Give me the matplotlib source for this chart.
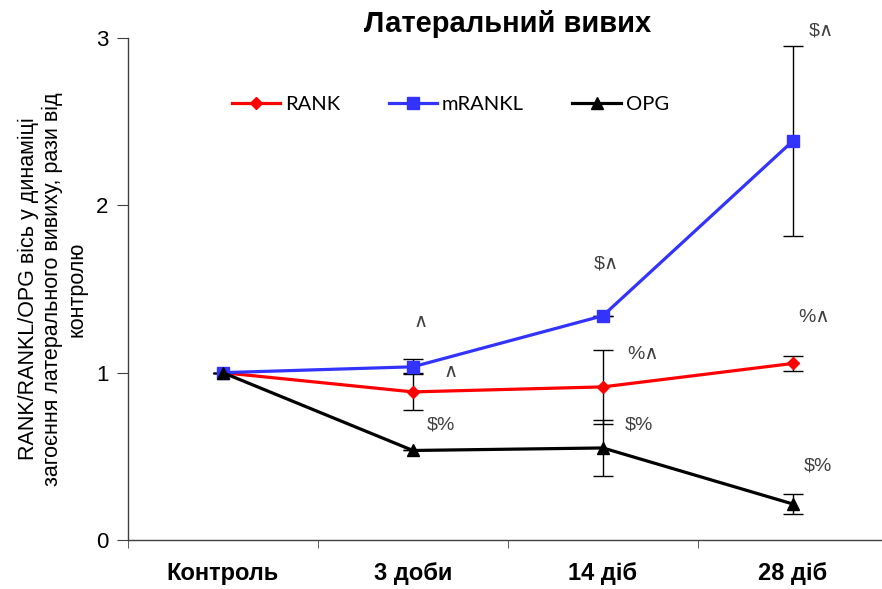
from matplotlib import pyplot as plt
import numpy as np

# groups and measured values (fold of control)
groups = ['Контроль', '3 доби', '14 діб', '28 діб']

rank = [1.0, 0.885, 0.915, 1.055]
rank_err = [0.0, 0.11, 0.22, 0.045]

mrankl = [1.0, 1.035, 1.34, 2.385]
mrankl_err = [0.0, 0.045, 0.0, 0.57]

opg = [1.0, 0.535, 0.55, 0.215]
opg_err = [0.0, 0.0, 0.17, 0.06]

# significance marks: (group index, y value, text)
marks = [
    (1.04, 1.30, '∧'), (1.2, 1.0, '∧'), (1.15, 0.69, '$%'),
    (2.02, 1.65, '$∧'), (2.21, 1.11, '%∧'), (2.19, 0.69, '$%'),
    (3.15, 3.04, '$∧'), (3.11, 1.33, '%∧'), (3.13, 0.44, '$%'),
]

fig = plt.figure(figsize=(8.82, 5.89), dpi=100)
ax = fig.add_axes([0.145, 0.0832, 0.8617, 0.8523])

x = np.arange(len(groups))
lw = 2.3
sans = ['Liberation Sans', 'DejaVu Sans']

for vals, errs in [(rank, rank_err), (mrankl, mrankl_err), (opg, opg_err)]:
    ax.errorbar(x, vals, yerr=errs, fmt='none', ecolor='black', elinewidth=1,
                capsize=7, capthick=1, zorder=2)

l1, = ax.plot(x, rank, color='#ff0000', lw=lw, marker='D', ms=6, zorder=3)
l2, = ax.plot(x, mrankl, color='#3333ff', lw=lw, marker='s', ms=8, zorder=3)
l3, = ax.plot(x, opg, color='black', lw=lw, marker='^', ms=8, zorder=3)

for xi, yi, txt in marks:
    ax.text(xi, yi, txt, ha='center', va='center', fontsize=14, color='#404040', family=sans)

ax.set_xlim(-0.5, 3.5)
ax.set_ylim(0, 3)
ax.set_yticks([0, 1, 2, 3])
ax.set_xticks(x)
ax.set_xticklabels(groups, fontsize=17, fontweight='bold', family=sans)
ax.set_xticks([-0.5, 0.5, 1.5, 2.5], minor=True)
ax.tick_params(axis='x', which='major', length=0, pad=16)
ax.tick_params(axis='x', which='minor', length=6, direction='out', color='#404040')
ax.tick_params(axis='y', length=8, direction='out', color='#404040', labelsize=16, pad=6)
for lab in ax.get_yticklabels():
    lab.set_family(sans)

for s in ['top', 'right']:
    ax.spines[s].set_visible(False)
for s in ['left', 'bottom']:
    ax.spines[s].set_color('#404040')
    ax.spines[s].set_linewidth(1)

ax.set_title('Латеральний вивих', fontsize=21, fontweight='bold', family=sans, pad=4)
ax.set_ylabel('RANK/RANKL/OPG вісь у динаміці\nзагоєння латерального вивиху, рази від\nконтролю',
              fontsize=15.5, family=sans, labelpad=6, linespacing=1.2)

ax.legend([l1, l2, l3], ['RANK', 'mRANKL', 'OPG'], ncol=3, frameon=False,
          loc='upper left', bbox_to_anchor=(0.113, 0.92), handlelength=2.4, handletextpad=0.25,
          columnspacing=2.4, prop={'family': ['Lato', 'DejaVu Sans'], 'size': 14.5})

fig.savefig('out.png', dpi=100)
